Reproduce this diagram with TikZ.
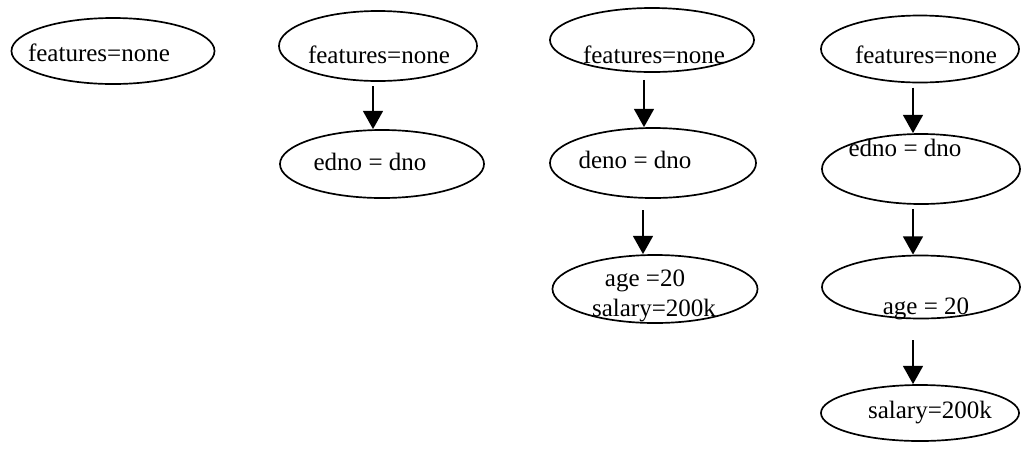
\documentclass[tikz,border=0pt]{standalone}
\usepackage{fontspec}
\setmainfont{Liberation Serif}
\usetikzlibrary{shapes.geometric,arrows.meta}

\begin{document}
\begin{tikzpicture}[x=0.025cm, y=-0.025cm,
		oval/.style={draw, ellipse, line width=1.2pt, inner sep=0pt},
		lbl/.style={inner sep=0pt, font=\fontsize{17.8}{20}\selectfont},
		arr/.style={line width=1.8pt, shorten <=3pt, -{Triangle[width=14pt,length=13pt]}}]
			%%%%% START %%%%%
			\useasboundingbox (0, 0) rectangle (1025, 449);
			
			% first tree
			\node[oval, minimum width=5.075cm, minimum height=1.65cm] (a1) at (113, 51) {};
			\node[lbl] (ta1) at (99, 53) {features=none};
			
			% second tree
			\node[oval, minimum width=4.95cm, minimum height=1.75cm] (b1) at (378, 46) {};
			\node[lbl] (tb1) at (379, 55) {features=none};
			\node[oval, minimum width=5.1cm, minimum height=1.7cm] (b2) at (382, 164) {};
			\node[lbl] (tb2) at (370, 162) {edno = dno};
			\draw[arr] ([xshift=-0.225cm]b2.north |- b1.south) -- ([xshift=-0.225cm]b2.north);
			
			% third tree
			\node[oval, minimum width=5.1cm, minimum height=1.6cm] (c1) at (652, 40) {};
			\node[lbl] (tc1) at (654, 55) {features=none};
			\node[oval, minimum width=5.15cm, minimum height=1.75cm] (c2) at (653, 163) {};
			\node[lbl] (tc2) at (635, 160) {deno = dno};
			\node[oval, minimum width=5.125cm, minimum height=1.7cm] (c3) at (655, 289) {};
			\node[lbl] (tc3) at (645, 281) {age =20};
			\node[lbl] (tc4) at (654, 311) {salary=200k};
			\draw[arr, shorten <=5pt] ([xshift=-0.225cm]c2.north |- c1.south) -- ([xshift=-0.225cm]c2.north);
			\draw[arr, shorten <=8pt] ([xshift=-0.3cm]c3.north |- c2.south) -- ([xshift=-0.3cm]c3.north);
			
			% fourth tree
			\node[oval, minimum width=4.95cm, minimum height=1.675cm] (d1) at (920, 49) {};
			\node[lbl] (td1) at (926, 55) {features=none};
			\node[oval, minimum width=4.95cm, minimum height=1.75cm] (d2) at (921, 169) {};
			\node[lbl] (td2) at (905, 148) {edno = dno};
			\node[oval, minimum width=4.95cm, minimum height=1.575cm] (d3) at (921, 287) {};
			\node[lbl] (td3) at (926, 309) {age = 20};
			\node[oval, minimum width=4.95cm, minimum height=1.4cm] (d4) at (920, 413) {};
			\node[lbl] (td4) at (930, 413) {salary=200k};
			\draw[arr] ([xshift=-0.2cm]d2.north |- d1.south) -- ([xshift=-0.2cm]d2.north);
			\draw[arr] ([xshift=-0.2cm]d3.north |- d2.south) -- ([xshift=-0.2cm]d3.north);
			\draw[arr, shorten <=15pt] ([xshift=-0.175cm]d4.north |- d3.south) -- ([xshift=-0.175cm]d4.north);
			
			%%%%% END %%%%%
		\end{tikzpicture}
\end{document}
